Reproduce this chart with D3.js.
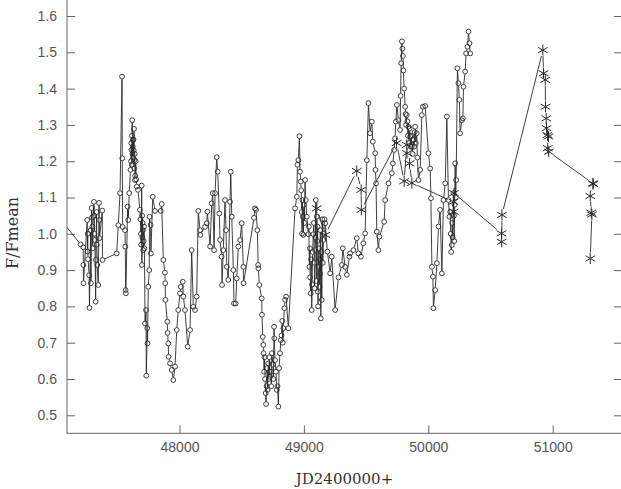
<!DOCTYPE html>
<html><head><meta charset="utf-8">
<script src="https://cdn.jsdelivr.net/npm/d3@7"></script>
<style>body{margin:0;background:#fff}svg{display:block}</style>
</head><body><svg id="c" width="621" height="489"></svg>
<script>
// ---- data ----
const circleJD = [47039,47205,47226,47227,47228,47258,47260,47274,47276,47286,47288,47294,47307,47312,47320,47326,47328,47339,47347,47353,47355,47357,47379,47381,47495,47508,47522,47538,47540,47543,47562,47564,47567,47569,47583,47588,47596,47606,47614,47620,47626,47634,47638,47642,47656,47666,47682,47696,47698,47704,47709,47723,47731,47733,47741,47743,47749,47757,47759,47768,47770,47785,47803,47849,47857,47870,47883,47885,47887,47902,47904,47910,47912,47924,47937,47950,47964,47978,47990,48004,48010,48026,48031,48044,48066,48085,48098,48111,48125,48138,48151,48165,48167,48205,48219,48224,48246,48259,48267,48278,48286,48299,48307,48320,48326,48339,48342,48352,48366,48374,48380,48392,48406,48412,48420,48433,48438,48452,48460,48473,48487,48500,48513,48515,48599,48607,48615,48626,48632,48634,48642,48661,48663,48669,48674,48676,48693,48696,48714,48728,48742,48760,48762,48768,48782,48795,48808,48814,48835,48843,48849,48857,48875,48929,48943,48948,48956,48964,48969,48975,48988,48991,48996,49009,49015,49023,49036,49044,49055,49063,49076,49090,49096,49104,49117,49125,49136,49144,49157,49171,49189,49211,49224,49251,49278,49305,49313,49331,49345,49366,49372,49398,49425,49438,49458,49478,49492,49506,49519,49532,49546,49554,49573,49575,49580,49586,49599,49607,49645,49653,49680,49707,49715,49725,49733,49739,49747,49760,49773,49814,49827,49840,49854,49868,49881,49894,49907,49921,49935,49948,49956,49975,50001,50015,50021,50029,50037,50041,50055,50069,50082,50095,50109,50122,50136,50149,50162,50170,50189,50202,50216,50224,50234,50242,50250,50256,50270,50278,50283,50296,50304,50315,50323,50331,50337,
  47262,47265,47296,47300,47302,47315,47317,47333,47335,47610,47612,47616,47618,47622,47624,47628,47630,47632,47636,47640,47644,47648,47652,47686,47690,47692,47700,47702,47706,47712,47715,47718,48680,48684,48688,48700,48705,48708,48718,48722,48735,48738,48750,48755,48775,48788,48800,48820,48826,48830,48978,48982,48985,49000,49004,49040,49048,49050,49058,49066,49070,49080,49084,49086,49092,49100,49108,49110,49112,49114,49120,49128,49130,49132,49140,49148,49152,49160,49165,49818,49822,49832,49836,49845,49850,49858,49862,49874,49877,49886,49890,49900,49912,50176,50180,50184,50192,50196,50206,50208,50212,50220,
  49777,49782,49788,49792,49796,49800,49806];
const circleFlux = [1.041,0.971,0.963,0.914,0.864,1.038,0.951,0.886,0.796,1.010,0.864,1.071,1.047,1.088,0.983,0.813,0.928,0.914,0.859,1.085,1.038,0.988,1.064,0.928,0.946,1.024,1.112,1.433,1.208,1.019,1.010,0.965,0.845,0.836,1.075,1.038,1.112,1.176,1.231,1.313,1.258,1.289,1.203,1.148,1.130,1.121,1.066,1.133,0.914,1.030,0.955,0.753,0.790,0.609,0.740,0.698,0.854,0.900,1.047,1.024,0.946,1.102,1.063,1.063,1.082,0.928,0.893,0.864,0.818,0.758,0.727,0.698,0.661,0.643,0.625,0.597,0.634,0.735,0.790,0.836,0.854,0.868,0.827,0.790,0.689,0.735,0.955,0.799,0.790,0.827,1.063,1.010,0.997,1.019,1.029,1.061,0.965,1.084,1.112,0.955,1.112,1.211,1.171,1.056,0.983,0.937,0.859,0.955,1.093,1.010,0.909,0.873,1.088,1.171,1.047,0.900,0.808,0.808,0.877,0.965,0.983,1.029,0.909,0.864,1.044,1.070,1.066,1.010,0.914,0.905,0.859,0.822,0.777,0.716,0.694,0.671,0.561,0.531,0.643,0.606,0.671,0.744,0.712,0.652,0.570,0.524,0.671,0.707,0.740,0.795,0.818,0.827,0.740,1.070,1.102,1.190,1.203,1.269,1.171,1.144,1.093,1.047,0.997,1.148,1.093,1.047,0.999,0.909,0.836,0.790,0.999,0.955,1.093,1.047,0.909,0.854,0.767,0.818,0.983,1.029,0.951,0.891,0.937,0.790,0.880,0.914,0.960,0.909,0.887,0.937,0.946,0.955,0.988,0.946,0.937,0.974,1.001,1.203,1.360,1.277,1.309,1.254,1.222,1.176,1.139,1.006,0.955,0.992,1.033,1.093,1.139,1.167,1.194,1.231,1.263,1.309,1.355,1.313,1.286,1.350,1.327,1.295,1.268,1.240,1.258,1.295,1.277,1.148,1.176,1.327,1.350,1.352,1.222,1.180,1.098,0.909,0.882,0.795,0.845,0.919,1.020,1.066,0.891,1.093,1.139,1.323,1.093,1.047,0.969,1.112,1.194,1.148,1.456,1.415,1.369,1.277,1.313,1.318,1.405,1.447,1.497,1.515,1.557,1.525,1.497,
  1.000,0.930,1.045,1.020,0.960,1.050,1.000,1.060,0.970,1.200,1.250,1.190,1.270,1.220,1.240,1.210,1.260,1.230,1.180,1.220,1.160,1.200,1.150,1.040,1.000,0.970,1.050,0.990,1.010,0.980,1.020,0.960,0.620,0.660,0.600,0.580,0.630,0.570,0.600,0.660,0.620,0.580,0.640,0.600,0.620,0.580,0.630,0.720,0.760,0.700,1.120,1.060,1.000,1.080,1.030,1.020,0.960,0.880,0.930,0.860,0.950,1.030,0.920,0.850,0.990,0.870,0.980,1.020,0.840,0.800,0.960,0.930,0.890,1.010,0.950,1.040,0.920,1.000,1.040,1.330,1.300,1.310,1.270,1.250,1.290,1.240,1.270,1.220,1.260,1.240,1.280,1.250,1.210,1.060,1.000,0.950,1.030,0.990,1.050,0.980,1.080,1.100,
  1.380,1.470,1.530,1.510,1.490,1.450,1.400];
const starJD = [49104,49171,49425,49460,49462,49745,49806,49827,49829,49849,49868,50202,50204,50206,50588,50590,50592,50921,50926,50940,50942,50948,50950,50958,50966,50960,50968,51323,51326,51302,51310,51315,51302];
const starFlux = [1.070,0.997,1.173,1.121,1.066,1.250,1.145,1.245,1.222,1.194,1.140,1.088,1.061,1.112,1.001,0.978,1.052,1.506,1.442,1.424,1.350,1.318,1.291,1.272,1.268,1.236,1.226,1.139,1.137,1.104,1.058,1.053,0.932];
const xTicks = [48000,49000,50000,51000];
const yTicks = [0.5,0.6,0.7,0.8,0.9,1.0,1.1,1.2,1.3,1.4,1.5,1.6];
const xTitle = "JD2400000+";
const yTitle = "F/Fmean";

// ---- layout ----
const L = 67, R = 622, T = -3, B = 433.3;
const svg = d3.select("#c");
const x = d3.scaleLinear().domain([48000, 51000]).range([179.5, 552.7]);
const y = d3.scaleLinear().domain([0.5, 1.6]).range([415.3, 16]);
const axisCol = "#666", ink = "#2a2a2a";

svg.append("defs").append("clipPath").attr("id","clip")
  .append("rect").attr("x",L).attr("y",T).attr("width",R-L).attr("height",B-T);

svg.append("rect").attr("x",L).attr("y",T).attr("width",R-L).attr("height",B-T)
  .attr("fill","none").attr("stroke",axisCol).attr("stroke-width",1);

const gy = svg.append("g").attr("transform",`translate(${L},0)`)
  .call(d3.axisLeft(y).tickValues(yTicks).tickFormat(d3.format(".1f")).tickSizeInner(-8).tickSizeOuter(0).tickPadding(10));
const gx = svg.append("g").attr("transform",`translate(0,${B})`)
  .call(d3.axisBottom(x).tickValues(xTicks).tickFormat(d3.format("d")).tickSizeInner(-8).tickSizeOuter(0).tickPadding(9));
const gyr = svg.append("g").attr("transform",`translate(${R},0)`)
  .call(d3.axisRight(y).tickValues(yTicks).tickFormat("").tickSizeInner(-8).tickSizeOuter(0));
for (const g of [gy,gx,gyr]) {
  g.select(".domain").remove();
  g.selectAll("line").attr("stroke",axisCol);
  g.selectAll("text").attr("fill","#555").style("font-family","'Liberation Sans',Arial,sans-serif").style("font-size","14px");
}

svg.append("text").attr("x",(L+R)/2).attr("y",484).attr("text-anchor","middle")
  .style("font-family","'DejaVu Serif',serif").style("font-size","15px").attr("fill","#333").text(xTitle);
svg.append("text").attr("transform","translate(18,233) rotate(-90)").attr("text-anchor","middle")
  .style("font-family","'DejaVu Serif',serif").style("font-size","16px").attr("fill","#333").text(yTitle);

// circle series in time order
const order = d3.range(circleJD.length).sort((a,b)=>circleJD[a]-circleJD[b]);
const cX = order.map(i=>circleJD[i]), cY = order.map(i=>circleFlux[i]);

const plot = svg.append("g").attr("clip-path","url(#clip)");
function gapSegments(xs, ys, gap) {
  const segs = [];
  for (let i = 0; i < xs.length - 1; i++) {
    const x0 = x(xs[i]), y0 = y(ys[i]), x1 = x(xs[i+1]), y1 = y(ys[i+1]);
    const dx = x1 - x0, dy = y1 - y0, len = Math.hypot(dx, dy);
    if (len <= 2 * gap) continue;
    const ux = dx / len, uy = dy / len;
    segs.push([x0 + ux*gap, y0 + uy*gap, x1 - ux*gap, y1 - uy*gap]);
  }
  return segs;
}
plot.append("g").selectAll("line").data(gapSegments(cX, cY, 2.6)).join("line")
  .attr("x1",d=>d[0]).attr("y1",d=>d[1]).attr("x2",d=>d[2]).attr("y2",d=>d[3])
  .attr("stroke",ink).attr("stroke-width",0.9);
plot.append("g").selectAll("circle").data(cX.map((d,i)=>[d,cY[i]])).join("circle")
  .attr("cx",d=>x(d[0])).attr("cy",d=>y(d[1])).attr("r",2.4)
  .attr("fill","none").attr("stroke",ink).attr("stroke-width",0.9);

plot.append("g").selectAll("line").data(gapSegments(starJD, starFlux, 6)).join("line")
  .attr("x1",d=>d[0]).attr("y1",d=>d[1]).attr("x2",d=>d[2]).attr("y2",d=>d[3])
  .attr("stroke",ink).attr("stroke-width",0.9);
const star = d3.path();
const s = 5.5;
star.moveTo(0,-s); star.lineTo(0,s);
star.moveTo(-s*0.87,-s*0.5); star.lineTo(s*0.87,s*0.5);
star.moveTo(-s*0.87,s*0.5); star.lineTo(s*0.87,-s*0.5);
plot.append("g").selectAll("path").data(starJD.map((d,i)=>[d,starFlux[i]])).join("path")
  .attr("transform",d=>`translate(${x(d[0])},${y(d[1])})`).attr("d",star.toString())
  .attr("fill","none").attr("stroke",ink).attr("stroke-width",1);
</script></body></html>
